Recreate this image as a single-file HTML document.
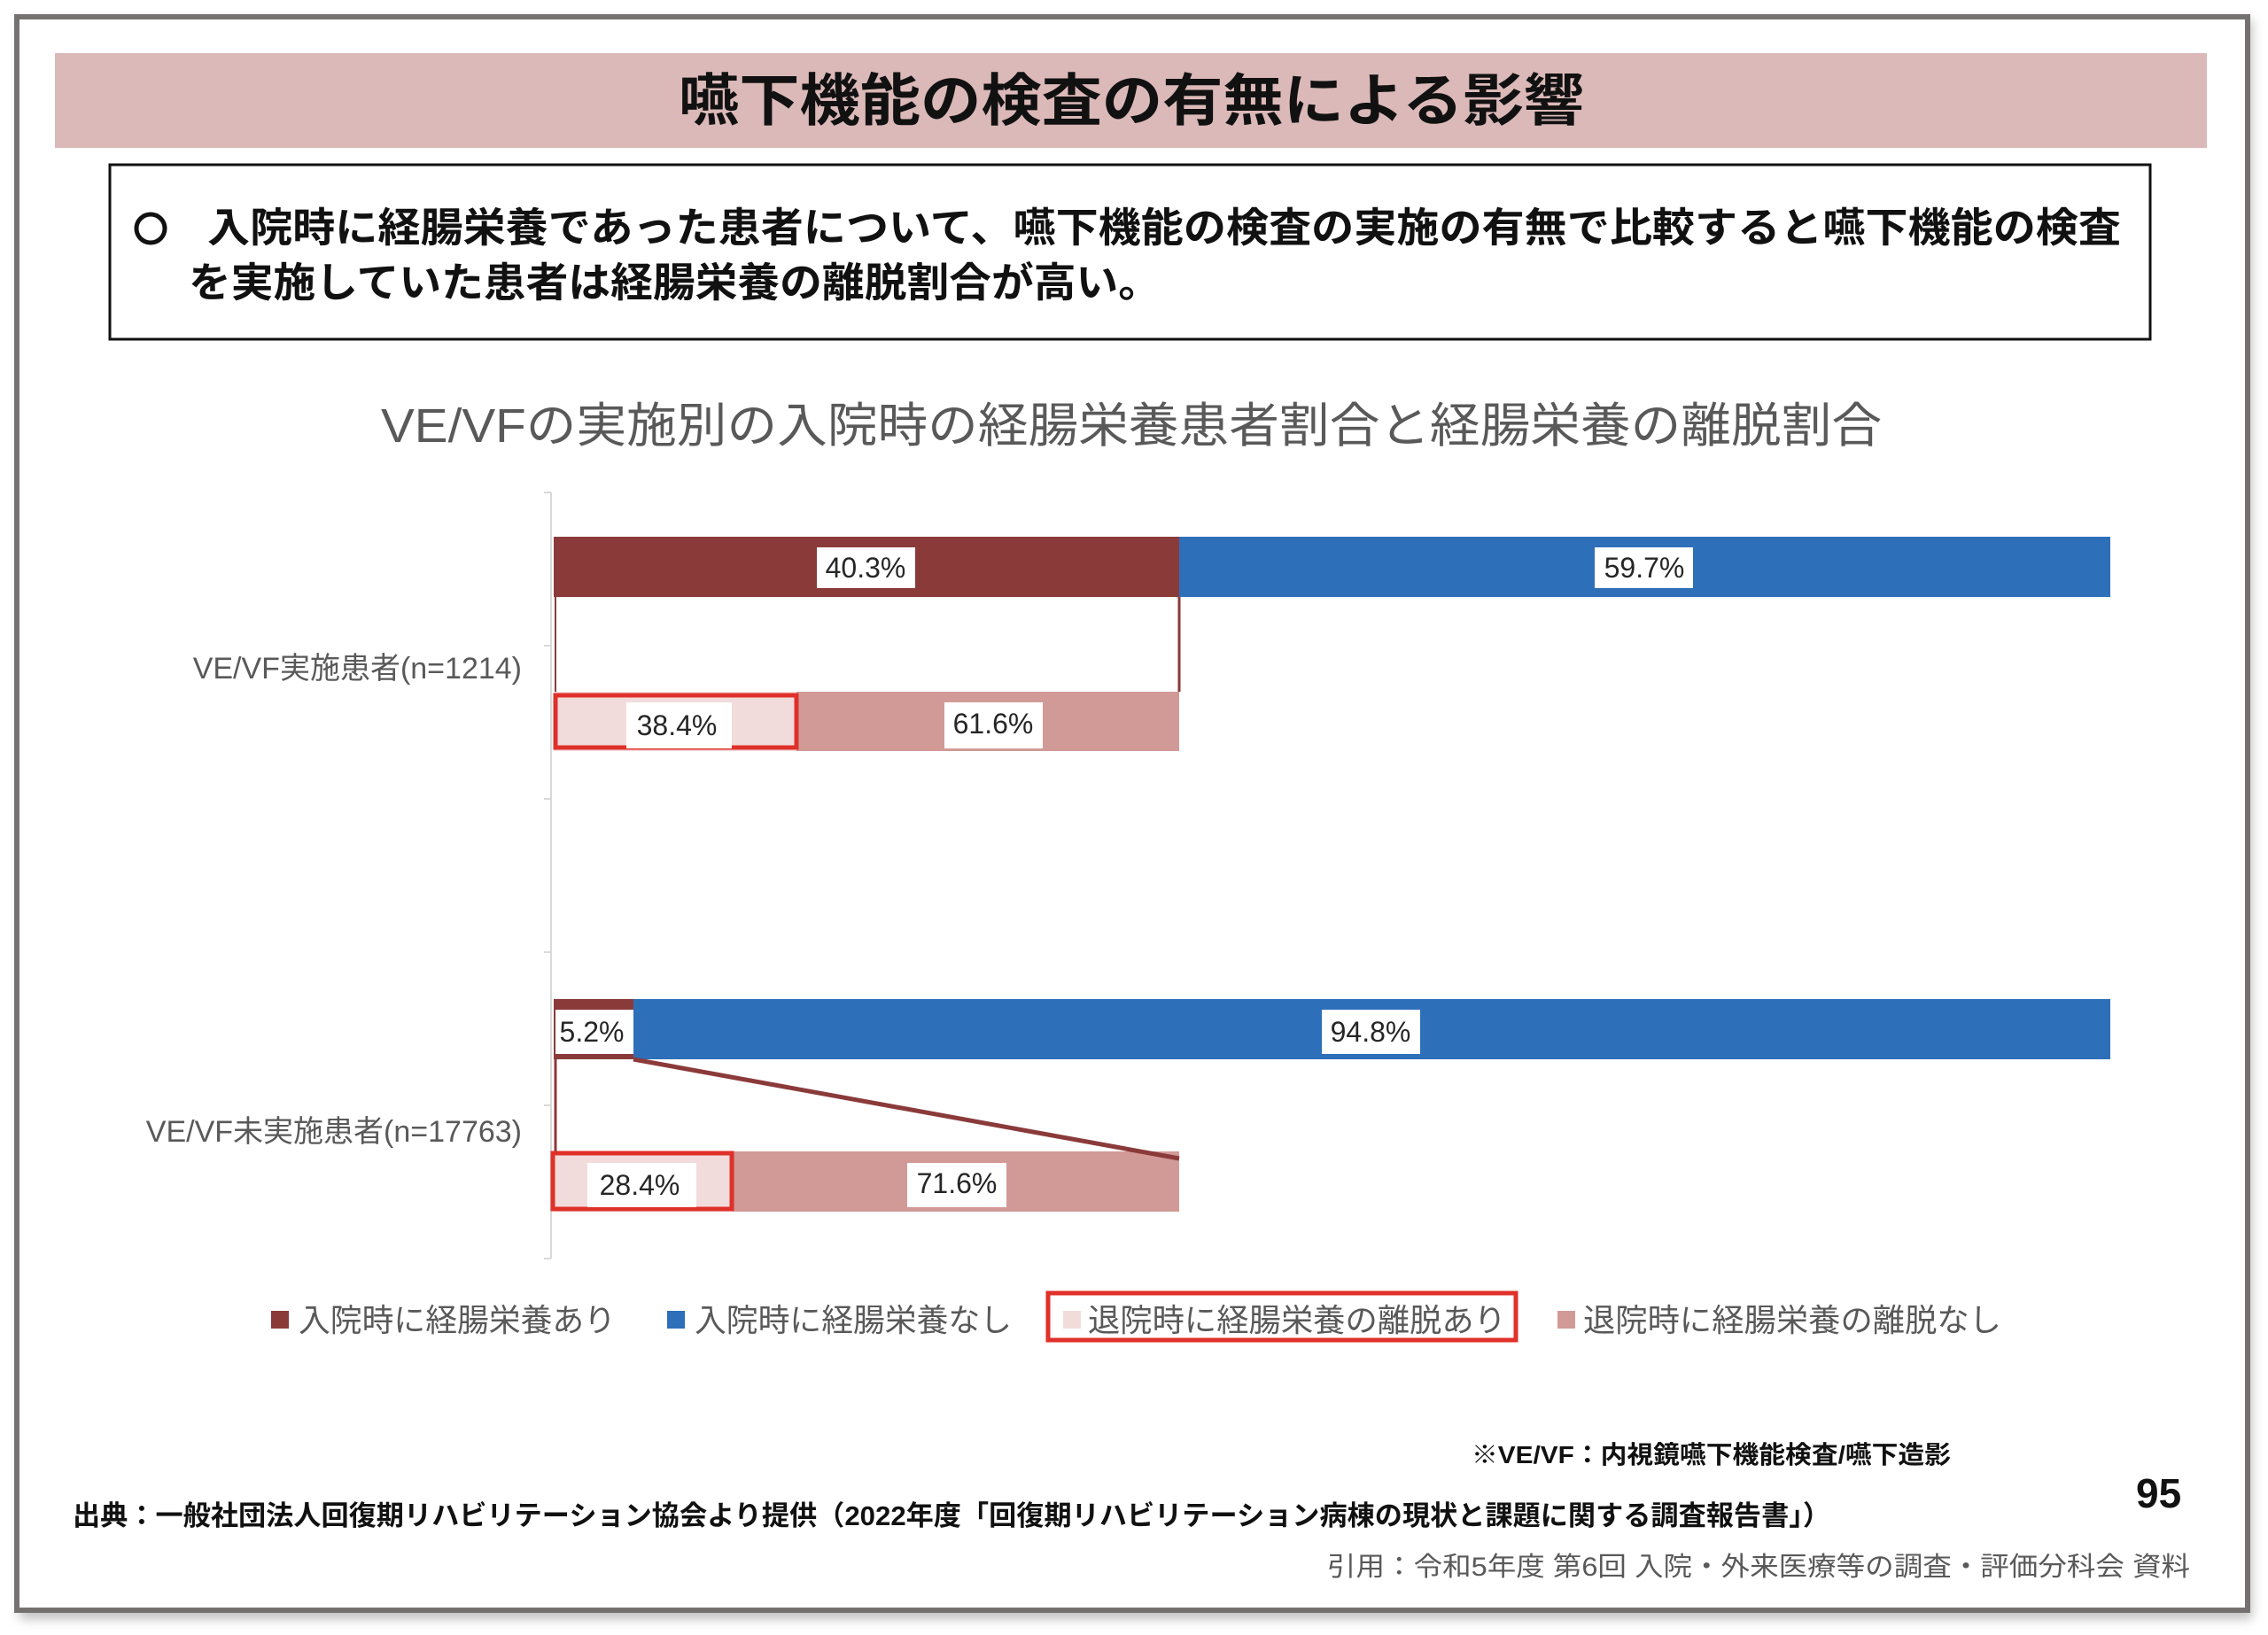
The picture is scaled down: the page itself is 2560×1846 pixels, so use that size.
<!DOCTYPE html>
<html><head><meta charset="utf-8"><style>
html,body{margin:0;padding:0;background:#fff;}
svg{display:block;}
text{font-family:"Liberation Sans","Noto Sans CJK JP",sans-serif;}
</style></head><body>
<svg width="2560" height="1846" viewBox="0 0 2560 1846" xmlns="http://www.w3.org/2000/svg">
<defs><filter id="sh" x="-5%" y="-5%" width="110%" height="110%"><feGaussianBlur stdDeviation="6"/></filter></defs>
<rect x="22" y="22" width="2520" height="1806" fill="#999" filter="url(#sh)" opacity="0.6"/>
<rect x="19" y="19" width="2518" height="1799" fill="#fff" stroke="#767171" stroke-width="6"/>
<rect x="62" y="60" width="2429" height="107" fill="#dbb9b8"/>
<text x="1277" y="136" font-size="64" font-weight="bold" text-anchor="middle" fill="#111" textLength="1022" lengthAdjust="spacingAndGlyphs">嚥下機能の検査の有無による影響</text>
<rect x="124" y="186" width="2303" height="197" fill="#fff" stroke="#111" stroke-width="3"/>
<circle cx="170" cy="258" r="16" fill="none" stroke="#111" stroke-width="5"/>
<text x="234" y="273" font-size="46" font-weight="bold" fill="#111" textLength="2160" lengthAdjust="spacingAndGlyphs">入院時に経腸栄養であった患者について、嚥下機能の検査の実施の有無で比較すると嚥下機能の検査</text>
<text x="213" y="335" font-size="46" font-weight="bold" fill="#111" textLength="1097" lengthAdjust="spacingAndGlyphs">を実施していた患者は経腸栄養の離脱割合が高い。</text>
<text x="1277" y="499" font-size="54" fill="#595959" text-anchor="middle" textLength="1694" lengthAdjust="spacingAndGlyphs">VE/VFの実施別の入院時の経腸栄養患者割合と経腸栄養の離脱割合</text>
<g stroke="#d9d9d9" stroke-width="2">
<line x1="622" y1="556" x2="622" y2="1421"/>
<line x1="614" y1="556" x2="622" y2="556"/><line x1="614" y1="729" x2="622" y2="729"/>
<line x1="614" y1="902" x2="622" y2="902"/><line x1="614" y1="1075" x2="622" y2="1075"/>
<line x1="614" y1="1248" x2="622" y2="1248"/><line x1="614" y1="1421" x2="622" y2="1421"/>
</g>
<rect x="625" y="606" width="706" height="68" fill="#8b3a3a"/>
<rect x="1331" y="606" width="1051" height="68" fill="#2e6fba"/>
<rect x="625" y="781" width="274" height="67" fill="#f2dcdb"/>
<rect x="899" y="781" width="432" height="67" fill="#d19a96"/>
<line x1="1331" y1="674" x2="1331" y2="781" stroke="#8b3a3a" stroke-width="3"/>
<line x1="627" y1="674" x2="627" y2="781" stroke="#8b3a3a" stroke-width="2"/>
<rect x="627" y="785" width="272" height="59" fill="none" stroke="#e0302a" stroke-width="5"/>
<rect x="625" y="1128" width="90" height="68" fill="#8b3a3a"/>
<rect x="715" y="1128" width="1667" height="68" fill="#2e6fba"/>
<rect x="625" y="1300" width="202" height="68" fill="#f2dcdb"/>
<rect x="827" y="1300" width="504" height="68" fill="#d19a96"/>
<line x1="715" y1="1196" x2="1331" y2="1308" stroke="#8b3a3a" stroke-width="5"/>
<line x1="627" y1="1196" x2="627" y2="1300" stroke="#8b3a3a" stroke-width="3"/>
<rect x="624" y="1302" width="202" height="63" fill="none" stroke="#e0302a" stroke-width="5"/>
<g font-size="32" fill="#262626" text-anchor="middle">
<rect x="922" y="618" width="111" height="46" fill="#fff"/><text x="977" y="652">40.3%</text>
<rect x="1800" y="618" width="111" height="46" fill="#fff"/><text x="1856" y="652">59.7%</text>
<rect x="707" y="793" width="119" height="52" fill="#fff"/><text x="764" y="830">38.4%</text>
<rect x="1066" y="793" width="111" height="52" fill="#fff"/><text x="1121" y="828">61.6%</text>
<rect x="627" y="1140" width="88" height="50" fill="#fff"/><text x="668" y="1176">5.2%</text>
<rect x="1492" y="1140" width="111" height="50" fill="#fff"/><text x="1547" y="1176">94.8%</text>
<rect x="663" y="1313" width="123" height="50" fill="#fff"/><text x="722" y="1349">28.4%</text>
<rect x="1024" y="1313" width="112" height="50" fill="#fff"/><text x="1080" y="1347">71.6%</text>
</g>
<g font-size="34" fill="#595959" text-anchor="end">
<text x="589" y="766">VE/VF実施患者(n=1214)</text>
<text x="589" y="1289">VE/VF未実施患者(n=17763)</text>
</g>
<g font-size="36" fill="#595959">
<rect x="306" y="1480" width="20" height="20" fill="#8b3a3a"/><text x="337" y="1503" textLength="358" lengthAdjust="spacingAndGlyphs">入院時に経腸栄養あり</text>
<rect x="753" y="1480" width="20" height="20" fill="#2e6fba"/><text x="784" y="1503" textLength="358" lengthAdjust="spacingAndGlyphs">入院時に経腸栄養なし</text>
<rect x="1200" y="1480" width="20" height="20" fill="#f2dcdb"/><text x="1228" y="1503" textLength="472" lengthAdjust="spacingAndGlyphs">退院時に経腸栄養の離脱あり</text>
<rect x="1758" y="1480" width="20" height="20" fill="#d19a96"/><text x="1787" y="1503" textLength="472" lengthAdjust="spacingAndGlyphs">退院時に経腸栄養の離脱なし</text>
</g>
<rect x="1183" y="1460" width="528" height="53" fill="none" stroke="#e0302a" stroke-width="5"/>
<text x="1661" y="1652" font-size="28" font-weight="bold" fill="#111" textLength="541" lengthAdjust="spacingAndGlyphs">※VE/VF：内視鏡嚥下機能検査/嚥下造影</text>
<text x="2411" y="1702" font-size="46" font-weight="bold" fill="#111">95</text>
<text x="82" y="1722" font-size="31" font-weight="bold" fill="#111" textLength="1984" lengthAdjust="spacingAndGlyphs">出典：一般社団法人回復期リハビリテーション協会より提供（2022年度「回復期リハビリテーション病棟の現状と課題に関する調査報告書」）</text>
<text x="1498" y="1779" font-size="30" fill="#595959" textLength="974" lengthAdjust="spacingAndGlyphs">引用：令和5年度 第6回 入院・外来医療等の調査・評価分科会 資料</text>
</svg>
</body></html>
